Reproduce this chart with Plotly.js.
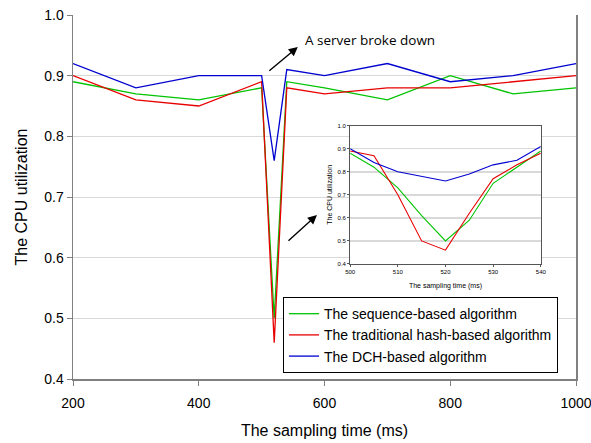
<!DOCTYPE html>
<html>
<head>
<meta charset="utf-8">
<script src="https://cdn.plot.ly/plotly-3.0.1.min.js"></script>
<style>html,body{margin:0;padding:0;background:#fff;}#chart{width:591px;height:443px;}</style>
</head>
<body>
<div id="chart"></div>
<script>
// Main chart data
var mainTime = [200, 300, 400, 500, 520, 540, 600, 700, 800, 900, 1000];
var seqMain  = [0.89, 0.87, 0.86, 0.88, 0.50, 0.89, 0.88, 0.86, 0.90, 0.87, 0.88];
var hashMain = [0.90, 0.86, 0.85, 0.89, 0.46, 0.88, 0.87, 0.88, 0.88, 0.89, 0.90];
var dchMain  = [0.92, 0.88, 0.90, 0.90, 0.76, 0.91, 0.90, 0.92, 0.89, 0.90, 0.92];

// Inset (zoom on 500-540 ms)
var insetTime = [500, 505, 510, 515, 520, 525, 530, 535, 540];
var seqInset  = [0.88, 0.82, 0.73, 0.61, 0.50, 0.59, 0.75, 0.82, 0.89];
var hashInset = [0.89, 0.87, 0.70, 0.50, 0.46, 0.62, 0.77, 0.83, 0.88];
var dchInset  = [0.90, 0.84, 0.80, 0.78, 0.76, 0.79, 0.83, 0.85, 0.91];

var seriesNames = ['The sequence-based algorithm', 'The traditional hash-based algorithm', 'The DCH-based algorithm'];
var xTicks = [200, 400, 600, 800, 1000];
var yTicks = [0.4, 0.5, 0.6, 0.7, 0.8, 0.9, 1.0];
var insetXTicks = [500, 510, 520, 530, 540];

var colors = ['#00c400', '#e80000', '#0000d0'];
var font = "'Liberation Sans', Arial, sans-serif";

var traces = [
  {x: mainTime, y: seqMain,  name: seriesNames[0], mode: 'lines', line: {color: colors[0], width: 1.3}},
  {x: mainTime, y: hashMain, name: seriesNames[1], mode: 'lines', line: {color: colors[1], width: 1.3}},
  {x: mainTime, y: dchMain,  name: seriesNames[2], mode: 'lines', line: {color: colors[2], width: 1.3}},
  {x: insetTime, y: seqInset,  xaxis: 'x2', yaxis: 'y2', mode: 'lines', showlegend: false, line: {color: colors[0], width: 1.1}},
  {x: insetTime, y: hashInset, xaxis: 'x2', yaxis: 'y2', mode: 'lines', showlegend: false, line: {color: colors[1], width: 1.1}},
  {x: insetTime, y: dchInset,  xaxis: 'x2', yaxis: 'y2', mode: 'lines', showlegend: false, line: {color: colors[2], width: 1.1}}
];

var layout = {
  width: 591, height: 443,
  margin: {l: 73, r: 15, t: 15, b: 64},
  paper_bgcolor: '#ffffff', plot_bgcolor: '#ffffff',
  font: {family: font, color: '#000'},
  showlegend: true,
  legend: {
    x: 0.4175, y: 0.225, xanchor: 'left', yanchor: 'top',
    bgcolor: '#ffffff', bordercolor: '#000000', borderwidth: 1,
    font: {family: font, size: 14, color: '#000'},
    tracegroupgap: 0
  },
  xaxis: {
    range: [200, 1000], tickvals: xTicks, ticktext: xTicks.map(String),
    showgrid: false, zeroline: false,
    showline: true, linecolor: '#808080', linewidth: 1.5,
    ticks: 'outside', ticklen: 5, tickcolor: '#808080',
    tickfont: {size: 14, family: font}, ticklabelstandoff: 6, ticklabeloverflow: 'allow',
    title: {text: 'The sampling time (ms)', font: {size: 16, family: font}, standoff: 14}
  },
  yaxis: {
    range: [0.4, 1.0], tickvals: yTicks, ticktext: yTicks.map(function(v){return v.toFixed(1);}),
    showgrid: true, gridcolor: '#d9d9d9', gridwidth: 1, zeroline: false,
    showline: true, linecolor: '#808080', linewidth: 1.5, mirror: true,
    ticks: 'outside', ticklen: 5, tickcolor: '#808080',
    tickfont: {size: 14, family: font},
    title: {text: 'The CPU utilization', font: {size: 16, family: font}, standoff: 12}
  },
  xaxis2: {
    domain: [0.551, 0.930], anchor: 'y2', range: [500, 540],
    tickvals: insetXTicks, ticktext: insetXTicks.map(String),
    showgrid: false, zeroline: false,
    showline: true, linecolor: '#555555', linewidth: 1, mirror: true,
    ticks: 'outside', ticklen: 2, tickcolor: '#555555',
    tickfont: {size: 6, family: font},
    title: {text: 'The sampling time (ms)', font: {size: 7, family: font}, standoff: 8}
  },
  yaxis2: {
    domain: [0.316, 0.696], anchor: 'x2', range: [0.4, 1.0],
    tickvals: yTicks, ticktext: yTicks.map(function(v){return v.toFixed(1);}),
    showgrid: true, gridcolor: '#d9d9d9', gridwidth: 1.5, zeroline: false,
    showline: true, linecolor: '#555555', linewidth: 1, mirror: true,
    ticks: 'outside', ticklen: 2, tickcolor: '#555555',
    tickfont: {size: 6, family: font},
    title: {text: 'The CPU utilization', font: {size: 7, family: font}, standoff: 4}
  },
  shapes: [
    {type: 'rect', xref: 'x2 domain', yref: 'y2 domain', x0: -0.15, x1: 1.09, y0: -0.2, y1: 1.06,
     fillcolor: '#ffffff', line: {width: 0}, layer: 'below'}
  ],
  annotations: [
    {xref: 'paper', yref: 'paper', x: 0.5905, y: 0.931, text: 'A server broke down', showarrow: false,
     font: {family: "'Open Sans', sans-serif", size: 13.5, color: '#000'}, xanchor: 'center', yanchor: 'middle'},
    {xref: 'paper', yref: 'paper', x: 0.447, y: 0.912, text: '', showarrow: true,
     ax: -30, ay: 25, arrowhead: 2, arrowsize: 1.3, arrowwidth: 1.4, arrowcolor: '#000', standoff: 0},
    {xref: 'paper', yref: 'paper', x: 0.485, y: 0.4505, text: '', showarrow: true,
     ax: -30, ay: 27, arrowhead: 2, arrowsize: 1.3, arrowwidth: 1.4, arrowcolor: '#000', standoff: 0}
  ]
};

Plotly.newPlot('chart', traces, layout, {displayModeBar: false, staticPlot: true});
</script>
</body>
</html>
